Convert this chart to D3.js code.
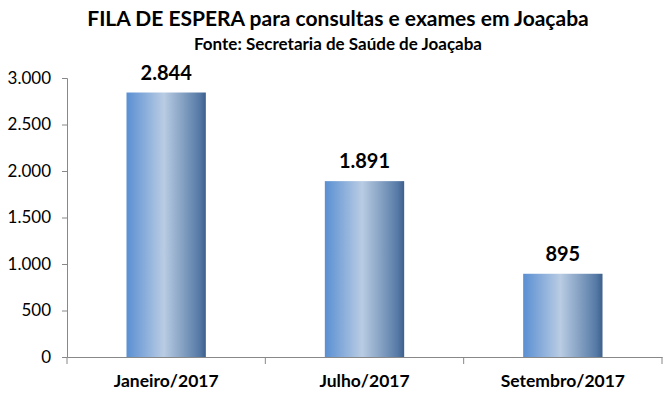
<!DOCTYPE html>
<html>
<head>
<meta charset="utf-8">
<script src="https://cdn.jsdelivr.net/npm/d3@7"></script>
<style>
  body { margin: 0; background: #fff; }
  text { font-family: Lato, 'Open Sans', sans-serif; }
</style>
</head>
<body>
<svg id="chart" width="671" height="398"></svg>
<script>
const categories = ['Janeiro/2017', 'Julho/2017', 'Setembro/2017'];
const values = [2844, 1891, 895];
const yTicks = [0, 500, 1000, 1500, 2000, 2500, 3000];

const fmt = v => d3.format(',')(v).replace(/,/g, '.');

const svg = d3.select('#chart');
const margin = { left: 67, right: 9, top: 78, bottom: 41 };
const W = 671, H = 398;

const x = d3.scaleBand()
  .domain(categories)
  .range([margin.left, W - margin.right])
  .paddingInner(0.6)
  .paddingOuter(0.3);

const y = d3.scaleLinear()
  .domain([0, 3000])
  .range([H - margin.bottom, margin.top]);

// gradiente das barras
const grad = svg.append('defs').append('linearGradient')
  .attr('id', 'barGrad')
  .attr('x1', '0%').attr('x2', '100%').attr('y1', '0%').attr('y2', '0%');
grad.append('stop').attr('offset', '0%').attr('stop-color', '#5a8fd2');
grad.append('stop').attr('offset', '47%').attr('stop-color', '#b9cce3');
grad.append('stop').attr('offset', '92%').attr('stop-color', '#567aa6');
grad.append('stop').attr('offset', '100%').attr('stop-color', '#3d5f8c');

// título
svg.append('text')
  .attr('x', 338).attr('y', 26)
  .attr('text-anchor', 'middle')
  .attr('font-size', '21px').attr('font-weight', 'bold')
  .text('FILA DE ESPERA para consultas e exames em Joaçaba');
svg.append('text')
  .attr('x', 338).attr('y', 50)
  .attr('text-anchor', 'middle')
  .attr('font-size', '17px').attr('font-weight', 'bold')
  .text('Fonte: Secretaria de Saúde de Joaçaba');

// eixo y
const yAxis = svg.append('g')
  .attr('transform', `translate(${margin.left},0)`)
  .call(d3.axisLeft(y).tickValues(yTicks).tickFormat(fmt).tickSize(5).tickPadding(11));
yAxis.select('.domain').attr('stroke', '#888');
yAxis.selectAll('.tick line').attr('stroke', '#888');
yAxis.selectAll('text').attr('font-size', '17px').attr('fill', '#000')
  .style('font-family', 'Lato, sans-serif');

// eixo x
const xAxis = svg.append('g')
  .attr('transform', `translate(0,${y(0)})`)
  .call(d3.axisBottom(x).tickSize(0).tickPadding(18));
xAxis.select('.domain').attr('stroke', '#888');
xAxis.selectAll('text').attr('font-size', '17.5px').attr('font-weight', 'bold').attr('fill', '#000')
  .style('font-family', 'Lato, sans-serif');

// marcas entre categorias
const bounds = d3.range(categories.length + 1).map(i => margin.left + i * (W - margin.left - margin.right) / categories.length);
svg.append('g').selectAll('line')
  .data(bounds)
  .enter()
  .append('line')
  .attr('x1', d => d).attr('x2', d => d)
  .attr('y1', y(0)).attr('y2', y(0) + 7)
  .attr('stroke', '#888');

// barras
svg.append('g').selectAll('rect')
  .data(values)
  .enter()
  .append('rect')
  .attr('x', (d, i) => x(categories[i]))
  .attr('y', d => y(d))
  .attr('width', x.bandwidth())
  .attr('height', d => y(0) - y(d))
  .attr('fill', 'url(#barGrad)');

// rótulos
svg.append('g').selectAll('text')
  .data(values)
  .enter()
  .append('text')
  .attr('x', (d, i) => x(categories[i]) + x.bandwidth() / 2)
  .attr('y', d => y(d) - 13)
  .attr('text-anchor', 'middle')
  .attr('font-size', '20px').attr('font-weight', 'bold')
  .text(fmt);
</script>
</body>
</html>
